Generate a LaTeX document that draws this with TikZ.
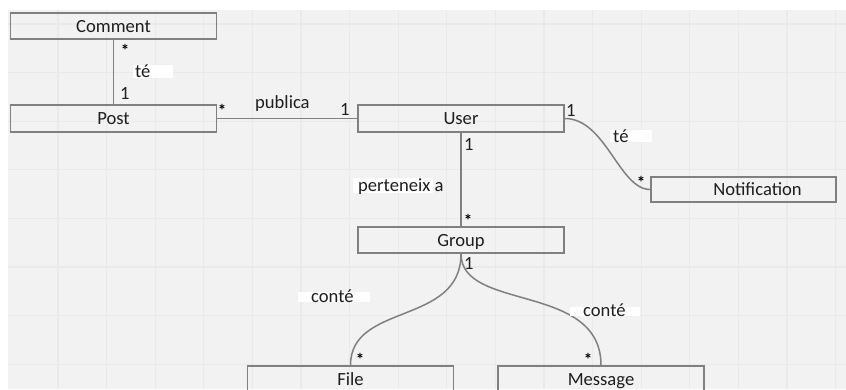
\documentclass[tikz,border=0pt]{standalone}
\usepackage{fontspec}
\setmainfont{Carlito}
\definecolor{bgc}{HTML}{F2F2F2}
\definecolor{gridc}{HTML}{EAEAEA}
\definecolor{linec}{HTML}{808080}
\definecolor{txtc}{HTML}{1E1E1E}
\tikzset{
  gridline/.style={draw=gridc, line width=1.3pt},
  umlbox/.style={draw=linec, line width=1.6pt, minimum width=206pt, minimum height=26pt,
    inner sep=0pt, text height=12pt, text depth=0pt, text=txtc,
    font=\fontsize{18.6pt}{22pt}\selectfont},
  conn/.style={draw=linec, line width=1.5pt},
  lblbg/.style={fill=white, inner sep=0pt, anchor=north west},
  lbl/.style={inner sep=0pt, text=txtc, font=\fontsize{18.6pt}{22pt}\selectfont, anchor=base west},
  mult/.style={inner sep=0pt, text=txtc, font=\fontsize{18.6pt}{22pt}\selectfont, anchor=base west},
  star/.style={inner sep=0pt, text=black, font=\fontsize{17pt}{19pt}\selectfont\bfseries, yshift=-2.5pt}
}
\begin{document}
\begin{tikzpicture}[x=1pt,y=-1pt]
\useasboundingbox (0,0) rectangle (846,389);
\clip (0,0) rectangle (846,389);
\fill[white] (0,0) rectangle (846,389);
\fill[bgc] (8,10) rectangle (846,389);
\foreach \gx in {0,...,16} \draw[gridline] ({58+48.6*\gx},10) -- ({58+48.6*\gx},389);
\foreach \gy in {0,...,7} \draw[gridline] (8,{24+48.6*\gy}) -- (846,{24+48.6*\gy});

% boxes
\node[umlbox] (comment) at (113.5,26) {Comment};
\node[umlbox, minimum height=27pt] (post) at (113.5,118.5) {Post};
\node[umlbox, minimum height=27pt] (user) at (461,118.5) {User};
\node[umlbox, minimum width=185pt, minimum height=25pt] (notif) at (743.5,189.5) {\hspace*{28pt}Notification};
\node[umlbox] (group) at (461,240) {Group};
\node[umlbox, minimum height=27pt] (file) at (350.5,379.5) {File};
\node[umlbox, minimum height=27pt] (message) at (601,379.5) {Message};

% connectors
\draw[conn] (comment.south) -- (post.north);
\draw[conn] (post.east) -- (user.west);
\draw[conn] (user.south) -- (group.north);
\draw[conn] (user.east) .. controls +(41,0) and +(-31,0) .. (notif.west);
\draw[conn] (group.south) .. controls +(0,72) and +(0,-63) .. (file.north);
\draw[conn] (group.south) .. controls +(0,58) and +(0,-83) .. (message.north);

% label backgrounds
\node[lblbg, minimum width=40pt, minimum height=13pt] (bg1) at (133,65) {};
\node[lblbg, minimum width=80pt, minimum height=15pt] (bg2) at (353,178) {};
\node[lblbg, minimum width=42pt, minimum height=12pt] (bg3) at (610,130) {};
\node[lblbg, minimum width=72pt, minimum height=10pt] (bg4) at (298,292) {};
\node[lblbg, minimum width=70pt, minimum height=9pt] (bg5) at (570,307) {};

% labels
\node[lbl] (l1) at (135,77) {té};
\node[lbl] (l2) at (255,108) {publica};
\node[lbl] (l3) at (358,191) {perteneix a};
\node[lbl] (l4) at (613,142) {té};
\node[lbl] (l5) at (311,302) {conté};
\node[lbl] (l6) at (583,316) {conté};

% multiplicities
\node[star] (m1) at (125,48) {*};
\node[mult] (m2) at (120,99) {1};
\node[star] (m3) at (222,108) {*};
\node[mult] (m4) at (340,115) {1};
\node[mult] (m5) at (566,116) {1};
\node[mult] (m6) at (464,150) {1};
\node[star] (m7) at (468,218) {*};
\node[star] (m8) at (641,180) {*};
\node[mult] (m9) at (464,269) {1};
\node[star] (m10) at (360,357) {*};
\node[star] (m11) at (588,357) {*};
\end{tikzpicture}
\end{document}
